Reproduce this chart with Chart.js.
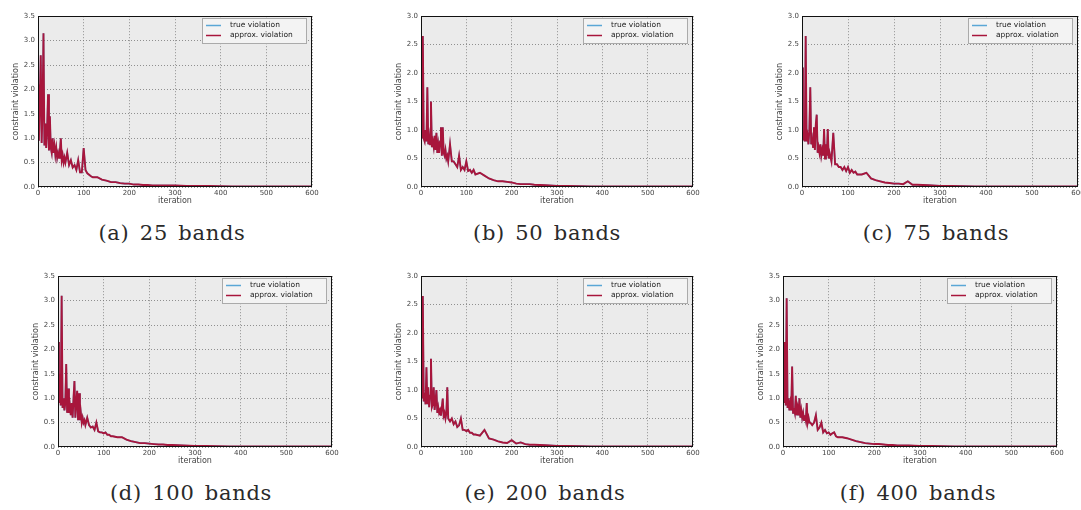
<!DOCTYPE html>
<html>
<head>
<meta charset="utf-8">
<script src="https://cdn.jsdelivr.net/npm/chart.js@4.4.1/dist/chart.umd.min.js"></script>
<style>
  html, body { margin: 0; padding: 0; background: #fff; width: 1081px; height: 510px; overflow: hidden; position: relative; }
  canvas { position: absolute; }
  .cap { position: absolute; font-family: "DejaVu Serif", serif; font-size: 21px; line-height: 21px; letter-spacing: 0.7px; word-spacing: 3px; color: #2a2a2a; transform: translateX(-50%); white-space: nowrap; }
</style>
</head>
<body>
<script>
const iterations = [0, 2, 4, 6, 8, 10, 12, 14, 16, 18, 20, 22, 24, 26, 28, 30, 32, 34, 36, 38, 40, 42, 44, 46, 48, 50, 52, 54, 56, 58, 60,
  64, 68, 72, 76, 80, 84, 88, 92, 96, 100, 104, 108, 112, 116, 120,
  130, 140, 150, 160, 170, 180, 190, 200, 210, 220, 230, 240, 250,
  275, 300, 325, 350, 375, 400, 425, 450, 475, 500, 525, 550, 575, 600];

// constraint violation per panel (true and approx. lie on top of each other)
const bands25 = [2.1, 0.95, 1.8, 2.7, 0.9, 1.6, 3.15, 0.85, 1.3, 0.8, 1.2, 1.9, 0.75, 1.45, 0.8, 0.7, 1.0, 0.7, 0.85, 0.65, 0.8, 0.6, 0.7, 0.6, 0.75, 1.0, 0.55, 0.65, 0.5, 0.6, 0.5,
  0.7, 0.45, 0.55, 0.4, 0.45, 0.35, 0.55, 0.3, 0.3, 0.8, 0.35, 0.28, 0.25, 0.22, 0.2,
  0.2, 0.15, 0.13, 0.1, 0.1, 0.08, 0.07, 0.07, 0.05, 0.05, 0.04, 0.04, 0.03,
  0.03, 0.03, 0.02, 0.02, 0.02, 0.015, 0.01, 0.01, 0.01, 0.01, 0.01, 0.01, 0.01, 0.01];
const bands50 = [2.15, 0.85, 2.65, 0.85, 0.8, 1.0, 0.8, 1.75, 0.75, 0.9, 0.75, 1.5, 0.7, 0.8, 0.7, 0.9, 0.65, 0.95, 0.6, 0.75, 0.6, 0.8, 1.05, 0.55, 1.05, 0.6, 0.55, 0.65, 0.5, 0.55, 0.45,
  0.75, 0.45, 0.45, 0.4, 0.35, 0.55, 0.3, 0.35, 0.3, 0.45, 0.28, 0.3, 0.25, 0.3, 0.22,
  0.25, 0.2, 0.15, 0.12, 0.1, 0.1, 0.09, 0.08, 0.06, 0.05, 0.05, 0.05, 0.04,
  0.03, 0.02, 0.02, 0.015, 0.01, 0.01, 0.01, 0.01, 0.01, 0.01, 0.01, 0.01, 0.01, 0.01];
const bands75 = [2.1, 0.85, 0.9, 0.8, 2.65, 0.8, 0.9, 0.75, 1.0, 1.75, 0.75, 0.85, 0.7, 1.05, 0.65, 1.1, 1.27, 0.6, 0.7, 0.6, 0.75, 0.55, 0.65, 0.55, 1.02, 0.5, 0.75, 0.55, 1.02, 0.5, 0.6,
  0.45, 0.95, 0.4, 0.4, 0.35, 0.35, 0.3, 0.35, 0.28, 0.35, 0.25, 0.3, 0.25, 0.27, 0.22,
  0.22, 0.25, 0.15, 0.12, 0.1, 0.08, 0.07, 0.06, 0.06, 0.05, 0.1, 0.04, 0.04,
  0.03, 0.02, 0.02, 0.015, 0.01, 0.01, 0.01, 0.01, 0.01, 0.01, 0.01, 0.01, 0.01, 0.01];
const bands100 = [2.15, 0.9, 1.5, 0.85, 3.1, 0.8, 1.0, 0.75, 0.9, 1.7, 0.7, 1.2, 0.7, 0.85, 0.65, 0.9, 0.6, 1.0, 1.35, 0.6, 0.9, 1.15, 0.55, 1.1, 0.55, 0.7, 0.5, 0.6, 0.5, 0.55, 0.45,
  0.6, 0.45, 0.4, 0.42, 0.35, 0.5, 0.32, 0.3, 0.3, 0.28, 0.3, 0.25, 0.25, 0.22, 0.22,
  0.2, 0.2, 0.15, 0.12, 0.1, 0.08, 0.08, 0.07, 0.06, 0.05, 0.05, 0.04, 0.04,
  0.03, 0.02, 0.02, 0.015, 0.01, 0.01, 0.01, 0.01, 0.01, 0.01, 0.01, 0.01, 0.01, 0.01];
const bands200 = [2.15, 0.85, 2.65, 0.8, 0.95, 0.75, 1.4, 0.75, 1.05, 0.7, 0.9, 1.55, 0.7, 0.75, 1.05, 0.65, 0.8, 1.0, 0.6, 0.7, 0.6, 0.65, 0.55, 0.7, 0.85, 0.55, 0.6, 0.5, 0.6, 1.05, 0.5,
  0.45, 0.5, 0.4, 0.45, 0.35, 0.38, 0.5, 0.3, 0.3, 0.28, 0.3, 0.25, 0.25, 0.22, 0.22,
  0.2, 0.3, 0.15, 0.13, 0.1, 0.08, 0.07, 0.12, 0.06, 0.08, 0.05, 0.04, 0.04,
  0.03, 0.02, 0.02, 0.015, 0.01, 0.01, 0.01, 0.01, 0.01, 0.01, 0.01, 0.01, 0.01, 0.01];
const bands400 = [2.15, 0.9, 2.15, 0.85, 3.05, 0.8, 1.0, 0.75, 0.9, 0.75, 1.65, 0.7, 0.8, 0.7, 1.05, 0.65, 0.8, 0.65, 1.0, 0.6, 0.75, 0.6, 0.7, 0.55, 0.65, 0.55, 0.9, 0.5, 0.6, 0.5, 0.5,
  0.45, 0.5, 0.65, 0.35, 0.4, 0.5, 0.3, 0.35, 0.28, 0.3, 0.25, 0.28, 0.3, 0.22, 0.2,
  0.2, 0.18, 0.15, 0.12, 0.1, 0.08, 0.07, 0.06, 0.06, 0.05, 0.04, 0.04, 0.03,
  0.03, 0.02, 0.02, 0.015, 0.01, 0.01, 0.01, 0.01, 0.01, 0.01, 0.01, 0.01, 0.01, 0.01];

const seriesLabels = ['true violation', 'approx. violation'];

// panel placement (plot area in page pixels)
const panels = [
  { caption: '(a) 25 bands',  values: bands25,  yMax: 3.5, left: 38,  top: 14,  width: 274, capX: 172, capY: 223 },
  { caption: '(b) 50 bands',  values: bands50,  yMax: 3.0, left: 421, top: 14,  width: 272, capX: 547, capY: 223 },
  { caption: '(c) 75 bands',  values: bands75,  yMax: 3.0, left: 802, top: 14,  width: 276, capX: 936, capY: 223 },
  { caption: '(d) 100 bands', values: bands100, yMax: 3.5, left: 58,  top: 274, width: 274, capX: 191, capY: 483 },
  { caption: '(e) 200 bands', values: bands200, yMax: 3.0, left: 421, top: 274, width: 272, capX: 545, capY: 483 },
  { caption: '(f) 400 bands', values: bands400, yMax: 3.5, left: 783, top: 274, width: 274, capX: 918, capY: 483 }
];
const PLOT_H = 173, PAD_TOP = 5, PAD_RIGHT = 10, Y_W = 27, X_H = 19;

const frame = {
  id: 'frame',
  beforeDraw(chart) {
    const { ctx, chartArea: a } = chart;
    ctx.save();
    ctx.fillStyle = '#ebebeb';
    ctx.fillRect(a.left, a.top, a.right - a.left, a.bottom - a.top);
    ctx.restore();
  },
  afterDraw(chart) {
    const { ctx, chartArea: a } = chart;
    ctx.save();
    ctx.strokeStyle = '#111';
    ctx.lineWidth = 1;
    ctx.strokeRect(Math.round(a.left) + 0.5, Math.round(a.top) + 0.5, Math.round(a.right - a.left) - 1, Math.round(a.bottom - a.top) - 1);
    // legend box, upper right
    const w = 104, h = 25;
    const x = Math.round(a.right) - 6 - w, y = Math.round(a.top) + 2;
    ctx.fillStyle = '#f3f3f3';
    ctx.fillRect(x, y, w, h);
    ctx.strokeStyle = '#aaa';
    ctx.strokeRect(x + 0.5, y + 0.5, w, h);
    ctx.font = '7.5px "DejaVu Sans"';
    ctx.textBaseline = 'middle';
    chart.data.datasets.forEach((ds, i) => {
      const ly = y + 7.5 + i * 10;
      ctx.strokeStyle = ds.borderColor;
      ctx.lineWidth = 1.5;
      ctx.beginPath();
      ctx.moveTo(x + 4, ly);
      ctx.lineTo(x + 19, ly);
      ctx.stroke();
      ctx.fillStyle = '#222';
      ctx.fillText(ds.label, x + 28, ly);
    });
    ctx.restore();
  }
};

panels.forEach((p) => {
  const cv = document.createElement('canvas');
  const cw = Y_W + p.width + PAD_RIGHT, ch = PAD_TOP + PLOT_H + X_H;
  cv.width = cw; cv.height = ch;
  cv.style.width = cw + 'px'; cv.style.height = ch + 'px';
  cv.style.left = (p.left - Y_W) + 'px';
  cv.style.top = (p.top - PAD_TOP) + 'px';
  document.body.appendChild(cv);

  const cap = document.createElement('div');
  cap.className = 'cap';
  cap.textContent = p.caption;
  cap.style.left = p.capX + 'px';
  cap.style.top = p.capY + 'px';
  document.body.appendChild(cap);

  const pts = iterations.map((it, i) => ({ x: it, y: p.values[i] }));

  new Chart(cv, {
    type: 'line',
    data: {
      datasets: [
        { label: seriesLabels[0], data: pts, borderColor: '#5aa7d6', borderWidth: 1.6, pointRadius: 0, order: 1 },
        { label: seriesLabels[1], data: pts, borderColor: '#a8163c', borderWidth: 1.9, pointRadius: 0, order: 0 }
      ]
    },
    options: {
      responsive: false,
      animation: false,
      layout: { padding: { top: PAD_TOP, right: PAD_RIGHT, left: 0, bottom: 0 } },
      plugins: { legend: { display: false }, tooltip: { enabled: false } },
      scales: {
        x: {
          type: 'linear', min: 0, max: 600,
          ticks: { stepSize: 100, font: { family: 'DejaVu Sans', size: 7 }, color: '#444', padding: 2, maxRotation: 0 },
          grid: { color: '#777', lineWidth: 0.8, drawTicks: false },
          border: { display: false, dash: [1, 2] },
          title: { display: true, text: 'iteration', font: { family: 'DejaVu Sans', size: 8 }, color: '#444', padding: 0 },
          afterFit: (s) => { s.height = X_H; }
        },
        y: {
          min: 0, max: p.yMax,
          ticks: { stepSize: 0.5, font: { family: 'DejaVu Sans', size: 7 }, color: '#444', padding: 3, callback: (v) => v.toFixed(1) },
          grid: { color: '#777', lineWidth: 0.8, drawTicks: false },
          border: { display: false, dash: [1, 2] },
          title: { display: true, text: 'constraint violation', font: { family: 'DejaVu Sans', size: 8 }, color: '#444', padding: 0 },
          afterFit: (s) => { s.width = Y_W; }
        }
      }
    },
    plugins: [frame]
  });
});
</script>
</body>
</html>
